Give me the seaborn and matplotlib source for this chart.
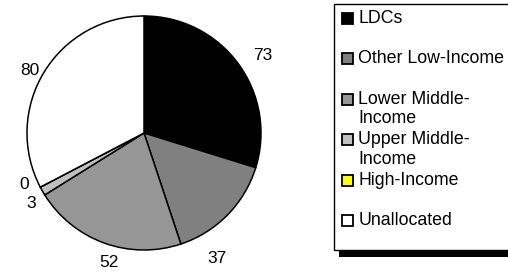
import numpy as np
import matplotlib
matplotlib.use("Agg")
import matplotlib.pyplot as plt
from matplotlib.patches import Rectangle
import seaborn as sns

# ---- data ----
categories = ["LDCs", "Other Low-Income", "Lower Middle-\nIncome",
              "Upper Middle-\nIncome", "High-Income", "Unallocated"]
values = [73, 37, 52, 3, 0, 80]
value_labels = ["73", "37", "52", "3", "0", "80"]
colors = ["#000000", "#808080", "#969696", "#c0c0c0", "#ffff00", "#ffffff"]

# label placement styling (fraction along slice, distance in radii)
label_frac = [0.53, 0.78, 0.44, 0.0, 1.0, 0.48]
label_extra_deg = [0, 0, 0, 0, 4.4, 0]
label_dist = [1.21, 1.24, 1.15, 1.14, 1.11, 1.11]

sns.set_theme(style="white")
plt.rcParams["font.family"] = ["Liberation Sans", "DejaVu Sans"]

W, H = 508, 271
fig = plt.figure(figsize=(W / 100, H / 100), dpi=100)
fig.patch.set_facecolor("white")

cx, cy, r = 144, 133, 117
ax = fig.add_axes([(cx - r) / W, (H - (cy + r)) / H, 2 * r / W, 2 * r / H])
wedges, _ = ax.pie(values, colors=colors, startangle=90, counterclock=False,
                   radius=1.0,
                   wedgeprops=dict(edgecolor="black", linewidth=1.1))
ax.set_xlim(-1, 1)
ax.set_ylim(-1, 1)
ax.set_aspect("equal")
ax.axis("off")

total = float(sum(values))
start = 0.0
for v, lab, f, d, extra in zip(values, value_labels, label_frac, label_dist, label_extra_deg):
    a0 = start / total * 360.0
    a1 = (start + v) / total * 360.0
    ang = np.deg2rad(a0 + f * (a1 - a0) + extra)  # clockwise from top
    ax.text(d * np.sin(ang), d * np.cos(ang), lab, ha="center", va="center",
            fontsize=12.5, color="black", clip_on=False)
    start += v

# ---- legend drawn in pixel coords ----
lg = fig.add_axes([0, 0, 1, 1])
lg.set_xlim(0, W)
lg.set_ylim(H, 0)
lg.axis("off")
lg.patch.set_alpha(0)
lg.add_patch(Rectangle((339, 250), W - 339 + 5, 6.5, facecolor="black", edgecolor="none"))
lg.add_patch(Rectangle((334, 4), W - 334 + 5, 246, facecolor="white", edgecolor="black", linewidth=1))
for i, (lab, c) in enumerate(zip(categories, colors)):
    y = 18.5 + 40.4 * i
    lg.add_patch(Rectangle((342, y - 5.5), 11, 11, facecolor=c, edgecolor="black", linewidth=1.3))
    lg.text(358.5, y - 8.5, lab, ha="left", va="top", fontsize=12.8, color="black",
            linespacing=1.2)

fig.savefig("out.png", dpi=100, facecolor="white")
